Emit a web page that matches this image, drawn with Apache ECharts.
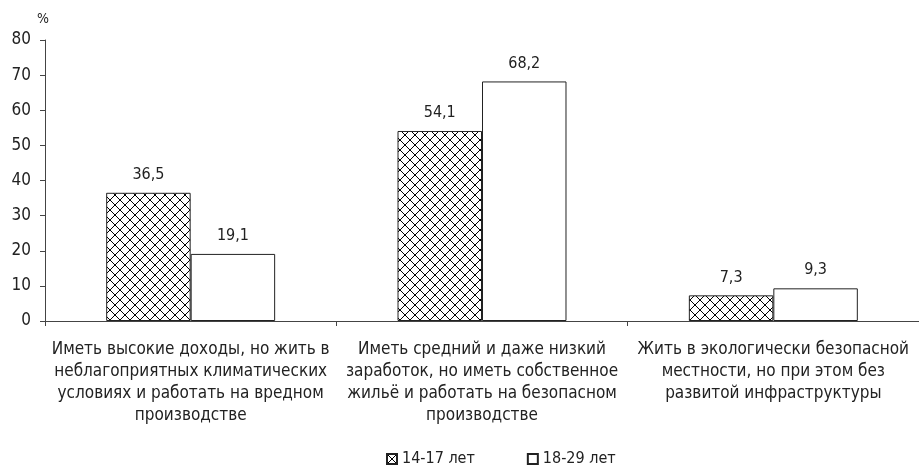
<!DOCTYPE html>
<html>
<head>
<meta charset="utf-8">
<script src="https://cdn.jsdelivr.net/npm/echarts@6/dist/echarts.min.js"></script>
<style>
  html, body { margin: 0; padding: 0; background: #fff; }
  #chart { width: 919px; height: 469px; }
</style>
</head>
<body>
<div id="chart"></div>
<script>
var categories = [
  'Иметь высокие доходы, но жить в\nнеблагоприятных климатических\nусловиях и работать на вредном\nпроизводстве',
  'Иметь средний и даже низкий\nзаработок, но иметь собственное\nжильё и работать на безопасном\nпроизводстве',
  'Жить в экологически безопасной\nместности, но при этом без\nразвитой инфраструктуры'
];
var teens = [36.5, 54.1, 7.3];
var young = [19.1, 68.2, 9.3];
var seriesNames = ['14-17 лет', '18-29 лет'];

// crosshatch pattern
function hatch() {
  var c = document.createElement('canvas');
  c.width = 10; c.height = 10;
  var ctx = c.getContext('2d');
  ctx.fillStyle = '#fff';
  ctx.fillRect(0, 0, 10, 10);
  ctx.strokeStyle = '#000';
  ctx.lineWidth = 1;
  ctx.beginPath();
  ctx.moveTo(0, 0); ctx.lineTo(10, 10);
  ctx.moveTo(10, 0); ctx.lineTo(0, 10);
  ctx.stroke();
  return c;
}

var font = '"Liberation Sans Narrow", "DejaVu Sans Condensed", sans-serif';
var chart = echarts.init(document.getElementById('chart'));
var labelOpt = {
  show: true, position: 'top', distance: 10,
  color: '#222', fontSize: 16, fontFamily: font,
  formatter: function (p) { return String(p.value).replace('.', ','); }
};
chart.setOption({
  animation: false,
  grid: { left: 45, right: 0, top: 40, bottom: 148 },
  legend: {
    top: 446, left: 381, itemGap: 52, itemWidth: 10, itemHeight: 10,
    icon: 'rect',
    textStyle: { fontSize: 16, fontFamily: font, color: '#222' },
    data: seriesNames
  },
  xAxis: {
    type: 'category',
    data: categories,
    axisLine: { lineStyle: { color: '#444' } },
    axisTick: { show: true, length: 5, lineStyle: { color: '#444' } },
    axisLabel: { interval: 0, margin: 18, lineHeight: 22, fontSize: 17, fontFamily: font, color: '#222' }
  },
  yAxis: {
    type: 'value', min: 0, max: 80, interval: 10,
    name: '%', nameGap: 14,
    nameTextStyle: { fontSize: 14, fontFamily: font, color: '#222', align: 'center', padding: [0, 4, 0, 0] },
    splitLine: { show: false },
    axisLine: { show: true, lineStyle: { color: '#444' } },
    axisTick: { show: true, length: 5, inside: false, lineStyle: { color: '#444' } },
    axisLabel: { fontSize: 17, fontFamily: font, color: '#222', margin: 14 }
  },
  series: [
    {
      name: seriesNames[0], type: 'bar', data: teens,
      barGap: '0%', barCategoryGap: '42%',
      itemStyle: { color: { image: hatch(), repeat: 'repeat' }, borderColor: '#222', borderWidth: 1 },
      label: labelOpt
    },
    {
      name: seriesNames[1], type: 'bar', data: young,
      itemStyle: { color: '#fff', borderColor: '#222', borderWidth: 1 },
      label: labelOpt
    }
  ]
});
</script>
</body>
</html>
